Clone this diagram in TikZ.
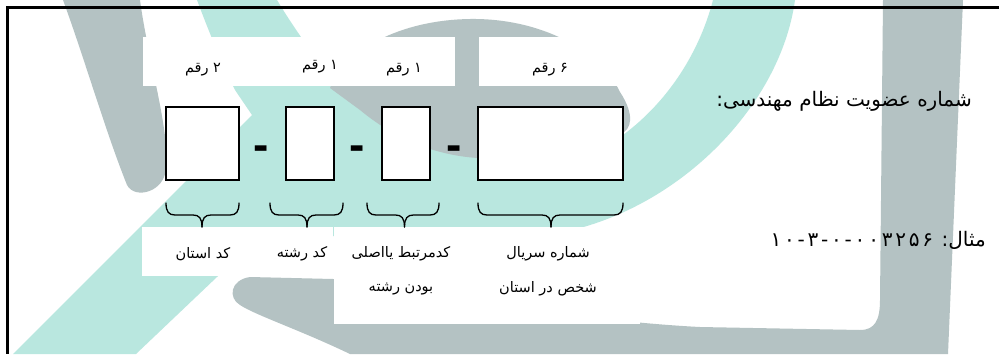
\documentclass[tikz,border=0pt]{standalone}
\usepackage{fontspec}
\newfontfamily\fa[Script=Arabic]{DejaVu Sans}
\newfontfamily\dashfont{Liberation Sans}
\TeXXeTstate=1
\definecolor{wmgray}{RGB}{180,194,195}
\definecolor{wmteal}{RGB}{185,231,223}
\newcommand{\myubrace}[3]{%
  \draw[bracestyle] (#1,203) .. controls (#1,212) and (#1+3,215) .. (#1+9,215) -- (#3-9,215) .. controls (#3-3,215) and (#3,218) .. (#3,227);
  \draw[bracestyle] (#2,203) .. controls (#2,212) and (#2-3,215) .. (#2-9,215) -- (#3+9,215) .. controls (#3+3,215) and (#3,218) .. (#3,227);}
\begin{document}
\begin{tikzpicture}[x=1pt,y=-1pt,
  digitbox/.style={draw=black,fill=white,line width=1.2pt,inner sep=0pt,minimum height=73pt},
  sep/.style={font=\dashfont\fontsize{46}{46}\selectfont\bfseries,inner sep=0pt,anchor=base},
  small/.style={font=\fa\fontsize{14.5}{16}\selectfont,inner sep=0pt},
  big/.style={font=\fa\fontsize{20}{22}\selectfont,inner sep=0pt,anchor=east},
  bracestyle/.style={line width=1.3pt,line cap=round},
  labelbg/.style={fill=white,draw=none}]
\useasboundingbox (0,0) rectangle (999,354);
\fill[white] (0,0) rectangle (999,354);
% watermark teal
\fill[wmteal] (197,0) .. controls (212,40) and (225,70) .. (235,90) -- (252,115) -- (13,354) -- (136,354) -- (217,277) -- (262,236) -- (540,236)
  .. controls (670,220) and (780,110) .. (795,0) -- (713,0) .. controls (700,50) and (670,100) .. (623,135) -- (480,125) -- (345,95)
  .. controls (320,65) and (295,30) .. (277,0) -- cycle;
% watermark gray
\fill[wmgray] (63,0) -- (140,0) .. controls (148,60) and (170,130) .. (166,168) .. controls (165,192) and (135,200) .. (127,185) .. controls (105,130) and (85,60) .. (63,0) -- cycle;
\fill[wmgray] (330,88) .. controls (345,50) and (400,20) .. (470,19) .. controls (540,18) and (600,50) .. (620,92) .. controls (635,115) and (632,130) .. (620,134)
  .. controls (570,152) and (520,160) .. (478,158) .. controls (430,155) and (390,135) .. (360,110) -- cycle;
\fill[wmgray] (883,0) -- (963,0) -- (948,354) -- (350,354) .. controls (300,330) and (255,315) .. (240,305) .. controls (228,298) and (230,280) .. (250,277)
  -- (333,279) .. controls (450,300) and (600,322) .. (700,327) -- (860,330) .. controls (875,330) and (880,320) .. (880,300) -- cycle;
% label backgrounds
\fill[labelbg] (143,37) rectangle (455,86);
\fill[labelbg] (479,37) rectangle (625,86);
\fill[labelbg] (142,227) rectangle (333,276);
\fill[labelbg] (334,227) rectangle (640,324);
% frame
\draw[line width=2.5pt] (999,7.5) -- (7.5,7.5) -- (7.5,354);
% digit boxes
\node[digitbox,minimum width=73pt] (b1) at (202.5,143.5) {};
\node[digitbox,minimum width=48pt] (b2) at (310,143.5) {};
\node[digitbox,minimum width=48pt] (b3) at (406,143.5) {};
\node[digitbox,minimum width=145pt] (b4) at (550.5,143.5) {};
\node[sep] (d1) at (261,160) {-};
\node[sep] (d2) at (357.5,160) {-};
\node[sep] (d3) at (454,160) {-};
% top labels
\node[small] (t1) at (203,70) {\beginR ۲ رقم\endR};
\node[small] (t2) at (320,67) {\beginR ۱ رقم\endR};
\node[small] (t3) at (404,70) {\beginR ۱ رقم\endR};
\node[small] (t4) at (550,70) {\beginR ۶ رقم\endR};
% braces
\myubrace{166}{239}{202}
\myubrace{270}{343}{307}
\myubrace{367}{439}{404.5}
\myubrace{478}{623}{551}
% bottom labels
\node[small] (l1) at (203,254) {\beginR کد استان\endR};
\node[small] (l2) at (302,254) {\beginR کد رشته\endR};
\node[small] (l3) at (401,254) {\beginR کدمرتبط یااصلی\endR};
\node[small] (l3b) at (401,289) {\beginR بودن رشته\endR};
\node[small] (l4) at (548,254) {\beginR شماره سریال\endR};
\node[small] (l4b) at (548,289) {\beginR شخص در استان\endR};
% right texts
\node[big] (title) at (972,101) {\beginR شماره عضویت نظام مهندسی:\endR};
\node[big] (example) at (986,240) {\beginR مثال: \beginL{\addfontfeature{LetterSpace=14}۱۰-۳-۰-۰۰۳۲۵۶}\endL\endR};
\end{tikzpicture}
\end{document}
